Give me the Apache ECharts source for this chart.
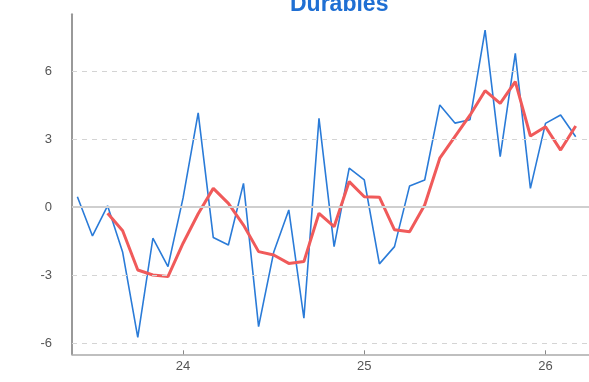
<!DOCTYPE html>
<html>
<head>
<meta charset="utf-8">
<script src="https://cdn.jsdelivr.net/npm/echarts@6/dist/echarts.min.js"></script>
<style>
html,body{margin:0;padding:0;background:#fff;}
#chart{width:589px;height:382px;}
</style>
</head>
<body>
<div id="chart"></div>
<script>
// Months (Jun 2023 .. Mar 2026)
var months = ['2023-06','2023-07','2023-08','2023-09','2023-10','2023-11','2023-12',
  '2024-01','2024-02','2024-03','2024-04','2024-05','2024-06','2024-07','2024-08','2024-09','2024-10','2024-11','2024-12',
  '2025-01','2025-02','2025-03','2025-04','2025-05','2025-06','2025-07','2025-08','2025-09','2025-10','2025-11','2025-12',
  '2026-01','2026-02','2026-03'];
// Monthly values (blue)
var monthly = [0.45,-1.28,0.05,-2.0,-5.75,-1.38,-2.63,
  0.4,4.15,-1.35,-1.68,1.04,-5.28,-2.0,-0.13,-4.91,3.91,-1.75,1.71,
  1.19,-2.51,-1.75,0.93,1.19,4.5,3.7,3.85,7.8,2.22,6.78,0.82,
  3.69,4.06,3.1];
// Smoothed values (red), starting at Aug 2023
var smoothed = [null,null,-0.28,-1.05,-2.78,-3.0,-3.07,
  -1.6,-0.3,0.82,0.16,-0.8,-1.97,-2.12,-2.49,-2.41,-0.28,-0.87,1.12,
  0.45,0.43,-1.01,-1.09,0.09,2.15,3.1,4.05,5.13,4.57,5.53,3.13,
  3.54,2.51,3.57];
var yTicks = [-6,-3,0,3,6];
var xTicks = [2024,2025,2026];
var xTickLabels = ['24','25','26'];
var gridDashed = [-6,-3,3,6];

function toYear(m){ var p = m.split('-'); return +p[0] + (+p[1]-1)/12; }
var blueData = months.map(function(m,i){ return [toYear(m), monthly[i]]; });
var redData = [];
months.forEach(function(m,i){ if (smoothed[i] !== null) redData.push([toYear(m), smoothed[i]]); });

var chart = echarts.init(document.getElementById('chart'), null, {renderer:'canvas'});
var font = 'Liberation Sans, Arial, sans-serif';
chart.setOption({
  animation:false,
  title:{
    text:'Durables', left:285, top:-12,
    textStyle:{fontFamily:font, fontSize:23, fontWeight:'bold', color:'#1f6fd3'}
  },
  grid:{left:72, right:0, top:14.3, bottom:27.7, containLabel:false},
  xAxis:{
    type:'value', min:2023.387, max:2026.24,
    axisLine:{show:true, onZero:false, lineStyle:{color:'#aaaaaa', width:1.5}},
    axisTick:{show:true, inside:true, length:4, customValues:xTicks, lineStyle:{color:'#888'}},
    axisLabel:{show:true, customValues:xTicks, margin:6, color:'#555', fontFamily:font, fontSize:13,
      formatter:function(v){ var i = xTicks.indexOf(Math.round(v)); return i>=0 ? xTickLabels[i] : ''; }},
    splitLine:{show:false}
  },
  yAxis:{
    type:'value', min:-6.5, max:8.5,
    axisLine:{show:true, onZero:false, lineStyle:{color:'#999999', width:2}},
    axisTick:{show:true, inside:true, length:4, customValues:yTicks, lineStyle:{color:'#888'}},
    axisLabel:{show:true, customValues:yTicks, margin:20, color:'#555', fontFamily:font, fontSize:13},
    splitLine:{show:false}
  },
  series:[
    {
      type:'line', data:blueData, showSymbol:false, silent:true, z:1,
      lineStyle:{opacity:0},
      markLine:{
        silent:true, symbol:['none','none'], label:{show:false},
        data: gridDashed.map(function(v){ return {yAxis:v, lineStyle:{type:[5,5], color:'#d4d4d4', width:1}}; })
          .concat([{yAxis:0, lineStyle:{type:'solid', color:'#cfcfcf', width:2}}])
      }
    },
    {
      type:'line', data:blueData, showSymbol:false, z:3,
      lineStyle:{color:'#2a7bd8', width:1.6}
    },
    {
      type:'line', data:redData, showSymbol:false, z:4,
      lineStyle:{color:'#f05a5a', width:3}
    }
  ]
});
</script>
</body>
</html>
